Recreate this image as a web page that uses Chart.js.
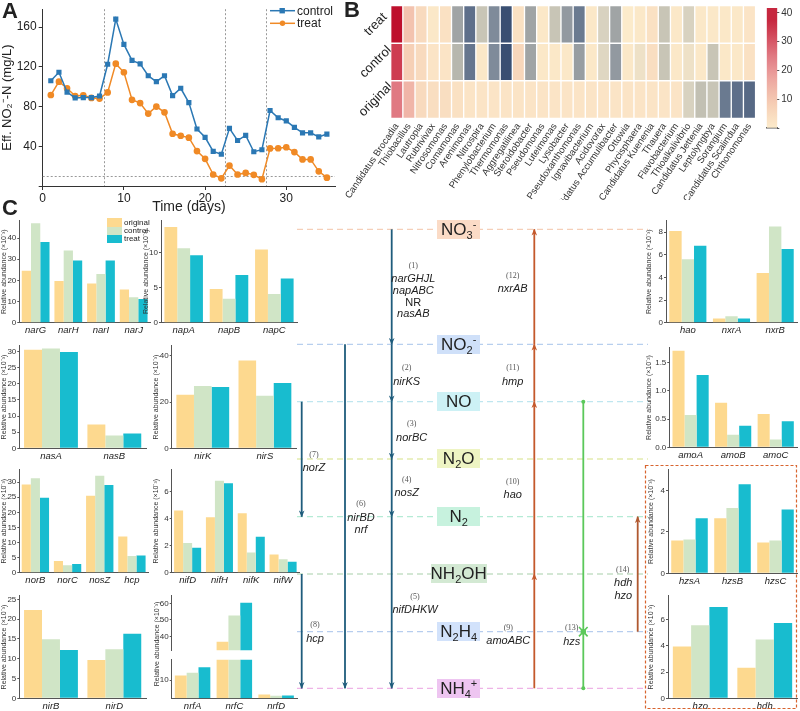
<!DOCTYPE html>
<html>
<head>
<meta charset="utf-8">
<script src="https://cdn.jsdelivr.net/npm/chart.js"></script>
<style>
  body { margin: 0; background: #fff; }
  #fig { position: relative; width: 800px; height: 711px; overflow: hidden; font-family: "Liberation Sans", Arial, sans-serif; color: #222; }
  #fig canvas { position: absolute; }
  .plabel { position: absolute; font-weight: bold; font-size: 22px; line-height: 22px; }
  .t { position: absolute; white-space: nowrap; transform: translate(-50%, -50%); line-height: 1; }
  .gene { font-size: 11px; font-style: italic; }
  .num { font-size: 8px; font-family: "Liberation Serif", serif; color: #555; }
  .sp { position: absolute; display: flex; align-items: center; justify-content: center; font-size: 17px; height: 19px; }
  .sp span { line-height: 19px; }
  .sp sub, .sp sup { font-size: 11px; line-height: 0; }
  .leg { position: absolute; font-size: 8px; line-height: 8px; }
</style>
</head>
<body>
<div id="fig"></div>
<script>
// ---------- panel A: effluent nitrite ----------
var days = [1,2,3,4,5,6,7,8,9,10,11,12,13,14,15,16,17,18,19,20,21,22,23,24,25,26,27,28,29,30,31,32,33,34,35];
var nitriteControl = [106,114.5,94.5,88.7,89,89,90.6,122.6,168,142.6,126.5,123,111,105,111,91,98.4,84,57.4,49,34.8,32,58,45.8,51,34.5,36.5,76,68.7,65.5,59,53.5,53.5,49.4,52.3];
var nitriteTreat = [91.6,105,98.4,90.6,91.3,88.7,88,94.2,123.2,114.5,86.8,83.5,72.9,80,74.2,52.6,50.6,48.7,35.2,27.4,11.6,7.7,20.6,11.6,13.2,11.3,6.8,37.8,38,39,34.2,26.8,26.8,14.8,8.4];
var phaseBreaks = [7.5, 22.5, 27.5];
var nitriteLimit = 10;

// ---------- panel B: genus heatmap ----------
var genera = ["Candidatus Brocadia","Thiobacillus","Lautropia","Rubrivivax","Nitrosomonas","Comamonas","Arenimonas","Nitrospira","Phenylobacterium","Thermomonas","Aggregatilinea","Steroidobacter","Pseudomonas","Luteimonas","Lysobacter","Pseudoxanthomonas","Ignavibacterium","Acidovorax","Candidatus Accumulibacter","Ottowia","Phycisphaera","Candidatus Kuenenia","Thauera","Flavobacterium","Thioalkalivibrio","Candidatus Jettenia","Leptolyngbya","Sorangium","Candidatus Scalindua","Chthonomonas"];
var samples = ["original", "control", "treat"];
var heatOriginal = [25,14,5,4,4,3,2,2,2,2,2,2,2,2,2,2,2,2,2,2,2,2,2,2,-5,-9,-8,-27,-30,-32];
var heatControl = [34,8,5,2,2,-11,-28,1,-22,-40,6,-15,1,1,1,-17,1,-4,-18,1,-2,4,-8,1,-2,1,-8,1,1,3];
var heatTreat = [41,11,5,1,3,-15,-30,-8,-22,-40,3,-15,1,-8,-18,-27,1,-5,-15,0,1,3,-8,1,-5,1,1,1,1,2];
var colorbarMax = 41.7;

// ---------- panel C: functional genes (relative abundance) ----------
var narGenes = ["narG","narH","narI","narJ"];
var narValues = [[24.6,19.7,18.5,15.7],[47,34.2,23,12],[38.2,29.4,29.4,11.2]];
var napGenes = ["napA","napB","napC"];
var napValues = [[13.6,4.8,10.4],[10.6,3.4,4.1],[9.6,6.8,6.3]];
var nasGenes = ["nasA","nasB"];
var nasValues = [[30.6,7.4],[31.0,4.0],[29.9,4.6]];
var nirGenes = ["nirK","nirS"];
var nirValues = [[23.2,38.0],[27.0,22.8],[26.5,28.3]];
var norGenes = ["norB","norC","nosZ","hcp"];
var norValues = [[29.2,3.9,25.5,12.0],[31.3,2.5,32.1,5.5],[24.8,2.9,29.1,5.7]];
var nifGenes = ["nifD","nifH","nifK","nifW"];
var nifValues = [[4.6,4.1,4.4,1.35],[2.2,6.8,1.5,1.0],[1.85,6.6,2.65,0.8]];
var nirBDGenes = ["nirB","nirD"];
var nirBDValues = [[22.3,9.7],[14.9,12.4],[12.2,16.3]];
var nrfGenes = ["nrfA","nrfC","nrfD"];
var nrfValues = [[12.6,36.6,2.1],[14.1,52.7,1.4],[17.1,60.5,1.6]];
var nrfLowTicks = [10];
var nrfHighTicks = [40, 50, 60];
var haoGenes = ["hao","nxrA","nxrB"];
var haoValues = [[8.1,0.37,4.4],[5.6,0.57,8.5],[6.8,0.37,6.5]];
var amoGenes = ["amoA","amoB","amoC"];
var amoValues = [[1.71,0.79,0.59],[0.57,0.22,0.14],[1.28,0.38,0.46]];
var hzsGenes = ["hzsA","hzsB","hzsC"];
var hzsValues = [[1.58,2.66,1.49],[1.63,3.15,1.58],[2.66,4.3,3.08]];
var hzoGenes = ["hzo","hdh"];
var hzoValues = [[3.95,2.33],[5.56,4.47],[6.95,5.73]];

var barColors = ["#fdd98f", "#d0e5c6", "#18bccf"];
var axisGrey = "#555";

Chart.defaults.font.family = '"Liberation Sans", Arial, sans-serif';
Chart.defaults.color = "#333";

var fig = document.getElementById("fig");

function canvasAt(x, y, w, h) {
  var c = document.createElement("canvas");
  c.width = Math.round(w);
  c.height = Math.round(h);
  c.style.left = x + "px";
  c.style.top = y + "px";
  fig.appendChild(c);
  return c;
}

function hexToRgb(h) {
  return [parseInt(h.substr(1,2),16), parseInt(h.substr(3,2),16), parseInt(h.substr(5,2),16)];
}

var warmStops = [[0,"#fcebcb"],[8,"#f6d0b6"],[16,"#eeaca3"],[24,"#e28088"],[32,"#d24a5b"],[42,"#bc0a28"]];
var coolStops = [[0,"#fcebcb"],[5,"#d8d2c0"],[10,"#bdbcb0"],[15,"#a0a4a5"],[22,"#7f8b9a"],[30,"#5e6f8a"],[40,"#3a4f72"]];

function heatColor(v) {
  var stops = v >= 0 ? warmStops : coolStops;
  var a = Math.abs(v);
  for (var i = 1; i < stops.length; i++) {
    if (a <= stops[i][0] || i === stops.length - 1) {
      var t = Math.min(1, (a - stops[i-1][0]) / (stops[i][0] - stops[i-1][0]));
      var c0 = hexToRgb(stops[i-1][1]), c1 = hexToRgb(stops[i][1]);
      return "rgb(" + c0.map(function (c, k) { return Math.round(c + (c1[k] - c) * t); }).join(",") + ")";
    }
  }
}

// ---------- panel A chart ----------
var guideLines = {
  id: "guideLines",
  beforeDatasetsDraw: function (chart) {
    var ctx = chart.ctx, a = chart.chartArea, x = chart.scales.x, y = chart.scales.y;
    ctx.save();
    ctx.strokeStyle = "#999";
    ctx.lineWidth = 1;
    ctx.setLineDash([2, 2]);
    phaseBreaks.forEach(function (d) {
      var px = Math.round(x.getPixelForValue(d)) + 0.5;
      ctx.beginPath(); ctx.moveTo(px, a.top); ctx.lineTo(px, a.bottom); ctx.stroke();
    });
    var py = Math.round(y.getPixelForValue(nitriteLimit)) + 0.5;
    ctx.beginPath(); ctx.moveTo(a.left, py); ctx.lineTo(a.right, py); ctx.stroke();
    ctx.restore();
  }
};

new Chart(canvasAt(0, 0, 345, 216), {
  type: "line",
  data: {
    datasets: [{
      label: "control",
      data: days.map(function (d, i) { return {x: d, y: nitriteControl[i]}; }),
      borderColor: "#2b78b4", backgroundColor: "#2b78b4",
      pointStyle: "rect", pointRadius: 2.6, borderWidth: 1.5
    }, {
      label: "treat",
      data: days.map(function (d, i) { return {x: d, y: nitriteTreat[i]}; }),
      borderColor: "#f08a26", backgroundColor: "#f08a26",
      pointStyle: "circle", pointRadius: 2.6, borderWidth: 1.5
    }]
  },
  options: {
    responsive: false, animation: false, events: [],
    layout: {padding: {top: 2, right: 10}},
    plugins: {legend: {display: false}, tooltip: {enabled: false}},
    scales: {
      x: {
        type: "linear", min: 0, max: 36,
        grid: {drawOnChartArea: false, tickLength: 4, color: "#333"},
        border: {color: "#333"},
        ticks: {stepSize: 10, includeBounds: false, font: {size: 12}, color: "#222", padding: 1},
        title: {display: true, text: "Time (days)", font: {size: 14}, color: "#222", padding: {top: 0, bottom: 0}},
        afterFit: function (s) { s.height = 30; }
      },
      y: {
        min: 0, max: 178,
        grid: {drawOnChartArea: false, tickLength: 4, color: "#333"},
        border: {color: "#333"},
        ticks: {stepSize: 40, includeBounds: false, font: {size: 12}, color: "#222", padding: 2,
          callback: function (v) { return v === 0 ? "" : v; }},
        title: {display: true, text: "Eff. NO₂⁻-N (mg/L)", font: {size: 13}, color: "#222", padding: 0},
        afterFit: function (s) { s.width = 42.7; }
      }
    }
  },
  plugins: [guideLines]
});

// ---------- panel B heatmap ----------
var heatRows = [heatOriginal, heatControl, heatTreat];
new Chart(canvasAt(340, 0, 422, 200), {
  type: "bar",
  data: {
    labels: genera,
    datasets: samples.map(function (s, i) {
      return {
        label: s,
        data: genera.map(function () { return 1; }),
        backgroundColor: heatRows[i].map(heatColor),
        borderColor: "#fff", borderWidth: 1, borderSkipped: false,
        barPercentage: 1, categoryPercentage: 1
      };
    })
  },
  options: {
    responsive: false, animation: false, events: [],
    layout: {padding: {top: 5.7, right: 2.7}},
    plugins: {legend: {display: false}, tooltip: {enabled: false}},
    scales: {
      x: {
        stacked: true,
        grid: {display: false, drawTicks: false}, border: {display: false},
        ticks: {autoSkip: false, minRotation: 56, maxRotation: 56, font: {size: 9.5}, color: "#333", padding: 3},
        afterFit: function (s) { s.height = 81.7; }
      },
      y: {
        stacked: true, min: 0, max: 3,
        grid: {display: false, drawTicks: false}, border: {display: false},
        afterBuildTicks: function (s) { s.ticks = samples.map(function (_, i) { return {value: i + 0.5}; }); },
        ticks: {minRotation: 45, maxRotation: 45, crossAlign: "center", padding: -6, font: {size: 13}, color: "#222",
          callback: function (v) { return samples[Math.floor(v)]; }},
        afterFit: function (s) { s.width = 50.7; }
      }
    }
  }
});

// colour bar
new Chart(canvasAt(762, 0, 38, 136), {
  type: "bar",
  data: {
    labels: [""],
    datasets: [{
      data: [colorbarMax],
      barPercentage: 1, categoryPercentage: 1,
      backgroundColor: function (ctx) {
        var a = ctx.chart.chartArea;
        if (!a) return "#fcebcb";
        var g = ctx.chart.ctx.createLinearGradient(0, a.bottom, 0, a.top);
        for (var v = 0; v <= colorbarMax; v += colorbarMax / 10) g.addColorStop(v / colorbarMax, heatColor(v));
        return g;
      }
    }]
  },
  options: {
    responsive: false, animation: false, events: [],
    layout: {padding: {top: 5.7, left: 4.7, bottom: 5.3}},
    plugins: {legend: {display: false}, tooltip: {enabled: false}},
    scales: {
      x: {grid: {display: false, drawTicks: false}, ticks: {display: false}, border: {color: "#555", width: 1.5},
        afterFit: function (s) { s.height = 0; }},
      y: {
        position: "right", min: 0, max: colorbarMax,
        grid: {drawOnChartArea: false, tickLength: 2, color: "#555"}, border: {display: false},
        ticks: {stepSize: 10, includeBounds: false, font: {size: 10}, color: "#333", padding: 2,
          callback: function (v) { return v === 0 ? "" : v; }},
        afterFit: function (s) { s.width = 22.7; }
      }
    }
  }
});

// ---------- panel C bar charts ----------
function genePanel(p) {
  var xh = p.xh === undefined ? 14 : p.xh;
  var left = Math.floor(p.x0 - p.yw), top = Math.floor(p.y0 - 3);
  var right = Math.ceil(p.x1 + 2), bottom = Math.ceil(p.y1 + xh);
  var yTicks = {stepSize: p.step, includeBounds: false, font: {size: 8}, color: "#333", padding: 1};
  if (p.fmt) yTicks.callback = p.fmt;
  var yScale = {
    min: p.min || 0, max: p.max,
    grid: {drawOnChartArea: false, tickLength: 2, color: axisGrey},
    border: {color: axisGrey},
    ticks: yTicks,
    title: {display: p.title !== false, text: "Relative abundance (×10" + (p.exp || "⁻³") + ")", font: {size: 7}, color: "#333", padding: 0},
    afterFit: function (s) { s.width = p.x0 - left; }
  };
  if (p.ticks) yScale.afterBuildTicks = function (s) { s.ticks = p.ticks.map(function (v) { return {value: v}; }); };
  return new Chart(canvasAt(left, top, right - left, bottom - top), {
    type: "bar",
    data: {
      labels: p.genes,
      datasets: samples.map(function (s, i) {
        return {label: s, data: p.values[i], backgroundColor: barColors[i], barPercentage: 1, categoryPercentage: 0.85};
      })
    },
    options: {
      responsive: false, animation: false, events: [],
      layout: {padding: {top: p.y0 - top, right: right - p.x1, bottom: xh === 0 ? bottom - p.y1 : 0}},
      plugins: {legend: {display: false}, tooltip: {enabled: false}},
      scales: {
        x: {
          display: xh !== 0,
          grid: {display: false, drawTicks: false}, border: {color: axisGrey},
          ticks: {font: {size: 9.5, style: "italic"}, color: "#222", padding: 2, maxRotation: 0},
          afterFit: function (s) { s.height = bottom - p.y1; }
        },
        y: yScale
      }
    }
  });
}

genePanel({genes: narGenes, values: narValues, x0: 19.3, x1: 150, y0: 218.3, y1: 322.7, max: 48.2, step: 10, yw: 19});
genePanel({genes: napGenes, values: napValues, x0: 161, x1: 297, y0: 218.3, y1: 322.7, max: 14.5, step: 5, yw: 19});
genePanel({genes: nasGenes, values: nasValues, x0: 19.3, x1: 146, y0: 343.3, y1: 448.3, max: 31.8, step: 5, yw: 19});
genePanel({genes: nirGenes, values: nirValues, x0: 171.7, x1: 296, y0: 343.3, y1: 448.3, max: 44.4, step: 20, yw: 19});
genePanel({genes: norGenes, values: norValues, x0: 19.3, x1: 148, y0: 467.3, y1: 572.7, max: 34.1, step: 5, yw: 19});
genePanel({genes: nifGenes, values: nifValues, x0: 171.7, x1: 299, y0: 467.3, y1: 572.7, max: 7.6, step: 2, yw: 19});
genePanel({genes: nirBDGenes, values: nirBDValues, x0: 19.3, x1: 146, y0: 593.3, y1: 698.3, max: 25.9, step: 5, yw: 19});
// nrf with a broken axis: lower and upper segments
genePanel({genes: nrfGenes, values: nrfValues, x0: 171.7, x1: 297, y0: 657.3, y1: 698.3, max: 21.2, ticks: nrfLowTicks, yw: 19, title: false});
genePanel({genes: nrfGenes, values: nrfValues, x0: 171.7, x1: 297, y0: 593.3, y1: 656, min: 31.5, max: 64.8, ticks: nrfHighTicks, yw: 19, title: false, xh: 0});
genePanel({genes: haoGenes, values: haoValues, x0: 666, x1: 797, y0: 218, y1: 322.7, max: 9.0, step: 2, yw: 21});
genePanel({genes: amoGenes, values: amoValues, x0: 669.3, x1: 797, y0: 345, y1: 447.3, max: 1.76, step: 0.5, yw: 24, exp: "⁻²",
  fmt: function (v) { return v.toFixed(1); }});
genePanel({genes: hzsGenes, values: hzsValues, x0: 668, x1: 797, y0: 467.3, y1: 573.3, max: 5.0, step: 2, yw: 21});
genePanel({genes: hzoGenes, values: hzoValues, x0: 668, x1: 797, y0: 593.3, y1: 698.3, max: 7.8, step: 2, yw: 21});

// ---------- overlays: labels, legends, pathway diagram ----------
function addHtml(html) { fig.insertAdjacentHTML("beforeend", html); }

addHtml('<div class="plabel" style="left:2px;top:0px">A</div>');
addHtml('<div class="plabel" style="left:344px;top:-1px">B</div>');
addHtml('<div class="plabel" style="left:2px;top:197px">C</div>');

// nrf shared axis title
addHtml('<div class="t" style="left:155.5px;top:644px;font-size:7px;color:#333;transform:translate(-50%,-50%) rotate(-90deg)">Relative abundance (×10⁻³)</div>');

// panel A legend
addHtml('<svg style="position:absolute;left:268px;top:3px" width="30" height="28">' +
  '<line x1="2" y1="7.7" x2="27" y2="7.7" stroke="#2b78b4" stroke-width="1.5"/><rect x="11.5" y="5" width="5.4" height="5.4" fill="#2b78b4"/>' +
  '<line x1="2" y1="20.3" x2="27" y2="20.3" stroke="#f08a26" stroke-width="1.5"/><circle cx="14.5" cy="20.3" r="2.7" fill="#f08a26"/></svg>');
addHtml('<div class="t" style="left:297px;top:10.7px;transform:translate(0,-50%);font-size:12px">control</div>');
addHtml('<div class="t" style="left:297px;top:23.3px;transform:translate(0,-50%);font-size:12px">treat</div>');

// panel C legend
samples.forEach(function (s, i) {
  var y = 218.3 + i * 8.3;
  addHtml('<div style="position:absolute;left:107px;top:' + y + 'px;width:15px;height:8.3px;background:' + barColors[i] + '"></div>');
  addHtml('<div class="leg" style="left:124px;top:' + (y + 0.5) + 'px">' + s + '</div>');
});

// pathway diagram
var species = [
  {html: "NO<sub>3</sub><sup>-</sup>", y: 229.3, w: 42.7, line: "#f5cfb8", box: "#fbdbc6"},
  {html: "NO<sub>2</sub><sup>-</sup>", y: 344.3, w: 42.7, line: "#b7cfee", box: "#cfe0f9"},
  {html: "NO", y: 401.7, w: 42.7, line: "#bfe6ef", box: "#cdf1f5"},
  {html: "N<sub>2</sub>O", y: 459, w: 42.7, line: "#e4ecae", box: "#eef4c3"},
  {html: "N<sub>2</sub>", y: 516.7, w: 42.7, line: "#b5ebd5", box: "#c7f2de"},
  {html: "NH<sub>2</sub>OH", y: 574, w: 56, line: "#c5dfc6", box: "#d3e9d3"},
  {html: "N<sub>2</sub>H<sub>4</sub>", y: 631.7, w: 42.7, line: "#b7cdee", box: "#d2e2fb"},
  {html: "NH<sub>4</sub><sup>+</sup>", y: 688.3, w: 42.7, line: "#eeb3e6", box: "#eec5f1"}
];
var yOf = {NO3: 229.3, NO2: 344.3, NO: 401.7, N2O: 459, N2: 516.7, NH2OH: 574, N2H4: 631.7, NH4: 688.3};

var svg = '<svg style="position:absolute;left:0;top:0" width="800" height="711"><defs>';
[["b", "#1f5c7c"], ["o", "#c4592c"], ["r", "#b0582f"]].forEach(function (m) {
  svg += '<marker id="ah' + m[0] + '" viewBox="0 0 10 8" refX="9" refY="4" markerWidth="7" markerHeight="6" orient="auto" markerUnits="userSpaceOnUse">' +
    '<path d="M0,0 L10,4 L0,8 L3,4 z" fill="' + m[1] + '"/></marker>';
});
svg += '</defs>';
species.forEach(function (s) {
  svg += '<line x1="297" y1="' + s.y + '" x2="648" y2="' + s.y + '" stroke="' + s.line + '" stroke-width="1.3" stroke-dasharray="6 4"/>';
});
function arrow(x, y1, y2, color, m) {
  svg += '<line x1="' + x + '" y1="' + y1 + '" x2="' + x + '" y2="' + y2 + '" stroke="' + color + '" stroke-width="1.8" marker-end="url(#ah' + m + ')"/>';
}
var blue = "#1f5c7c", orange = "#c4592c";
arrow(391.7, yOf.NO3, yOf.NO2, blue, "b");
arrow(391.7, yOf.NO2, yOf.NO, blue, "b");
arrow(391.7, yOf.NO, yOf.N2O, blue, "b");
arrow(391.7, yOf.N2O, yOf.N2, blue, "b");
arrow(391.7, yOf.N2, yOf.NH4, blue, "b");
arrow(345, yOf.NO2, yOf.NH4, blue, "b");
arrow(301.7, yOf.NO, yOf.N2, blue, "b");
arrow(301.7, yOf.NH2OH, yOf.NH4, blue, "b");
arrow(534.3, yOf.NH4, yOf.NH2OH, orange, "o");
arrow(534.3, yOf.NH2OH, yOf.NO, orange, "o");
arrow(534.3, yOf.NO, yOf.NO2, orange, "o");
arrow(534.3, yOf.NO2, yOf.NO3, orange, "o");
arrow(637.7, yOf.N2H4, yOf.N2, "#b0582f", "r");
// hzs (green)
svg += '<line x1="583.3" y1="' + yOf.NH4 + '" x2="583.3" y2="' + yOf.NO + '" stroke="#5bc85a" stroke-width="1.8"/>';
svg += '<circle cx="583.3" cy="' + yOf.NH4 + '" r="2" fill="#5bc85a"/><circle cx="583.3" cy="' + yOf.NO + '" r="2" fill="#5bc85a"/>';
svg += '<path d="M579,627 L587.6,636.4 M587.6,627 L579,636.4" stroke="#5bc85a" stroke-width="1.6"/><circle cx="583.3" cy="' + yOf.N2H4 + '" r="2.8" fill="#5bc85a"/>';
// anammox box
svg += '<rect x="645.5" y="465.5" width="151" height="243" fill="none" stroke="#d8642f" stroke-width="1.2" stroke-dasharray="3 2"/>';
svg += '</svg>';
addHtml(svg);

species.forEach(function (s) {
  addHtml('<div class="sp" style="left:' + (458.7 - s.w / 2) + 'px;top:' + (s.y - 9.6) + 'px;width:' + s.w + 'px;background:' + s.box + '"><span>' + s.html + '</span></div>');
});

var diagramLabels = [
  ["(1)", 413.3, 265.7], ["narGHJL", 413.3, 277.7, 1], ["napABC", 413.3, 289.7, 1], ["NR", 413.3, 301.7, 2], ["nasAB", 413.3, 313.3, 1],
  ["(12)", 512.7, 275.7], ["nxrAB", 512.7, 288, 1],
  ["(2)", 406.7, 368.3], ["nirKS", 406.7, 380.7, 1],
  ["(11)", 512.7, 368.3], ["hmp", 512.7, 380.7, 1],
  ["(3)", 411.7, 424.3], ["norBC", 411.7, 436.7, 1],
  ["(7)", 314, 455], ["norZ", 314, 466.7, 1],
  ["(4)", 406.7, 480], ["nosZ", 406.7, 492.3, 1],
  ["(10)", 512.7, 481.7], ["hao", 512.7, 494, 1],
  ["(6)", 361, 504.3], ["nirBD", 361, 517.3, 1], ["nrf", 361, 529.3, 1],
  ["(5)", 415, 597.3], ["nifDHKW", 415, 609.3, 1],
  ["(8)", 315, 625], ["hcp", 315, 638.3, 1],
  ["(9)", 508.3, 628.3], ["amoABC", 508.3, 640, 1],
  ["(13)", 571.7, 628.3], ["hzs", 571.7, 641, 1],
  ["(14)", 622.7, 570], ["hdh", 623.3, 582.3, 1], ["hzo", 623.3, 595, 1]
];
diagramLabels.forEach(function (l) {
  var style = "left:" + l[1] + "px;top:" + l[2] + "px;" + (l[3] === 2 ? "font-style:normal;" : "");
  addHtml('<div class="t ' + (l[3] ? "gene" : "num") + '" style="' + style + '">' + l[0] + '</div>');
});
</script>
</body>
</html>
